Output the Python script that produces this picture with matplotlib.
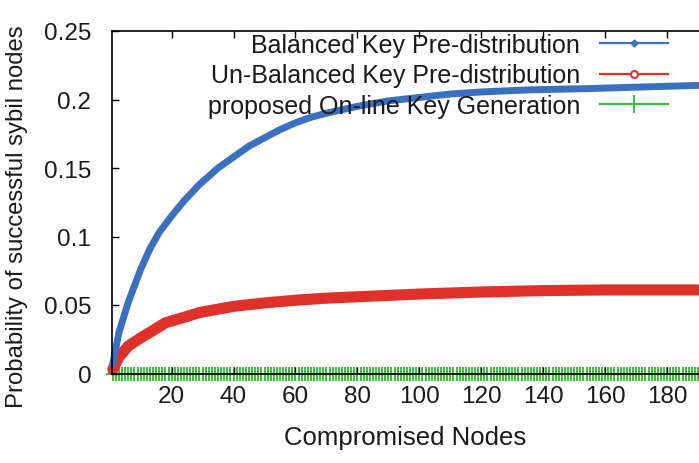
import matplotlib
matplotlib.use("Agg")
import matplotlib.pyplot as plt
from matplotlib.lines import Line2D

plt.rcParams['font.family'] = ['Liberation Sans', 'DejaVu Sans']

# values
blue_x = [1, 3, 6, 10, 13, 16, 20, 24, 29, 35, 40, 45, 50, 55, 60, 65, 70, 80, 90,
          100, 110, 120, 135, 155, 170, 190]
blue_y = [0.007, 0.030, 0.052, 0.076, 0.091, 0.103, 0.115, 0.126, 0.138, 0.150,
          0.158, 0.166, 0.172, 0.178, 0.183, 0.187, 0.190, 0.195, 0.199,
          0.2015, 0.204, 0.2055, 0.207, 0.208, 0.209, 0.2103]

red_x = [1, 3, 6, 10, 13, 18, 24, 29, 40, 50, 60, 70, 80, 100, 120, 140, 160, 190]
red_y = [0.003, 0.012, 0.020, 0.026, 0.030, 0.037, 0.041, 0.0445, 0.049, 0.0515,
         0.0535, 0.055, 0.056, 0.058, 0.0595, 0.0605, 0.061, 0.061]

green_x = list(range(1, 191))
green_y = [0] * len(green_x)

labels = ['Balanced Key Pre-distribution',
          'Un-Balanced Key Pre-distribution',
          'proposed On-line Key Generation']
xticks = [20, 40, 60, 80, 100, 120, 140, 160, 180]
yticks = [0, 0.05, 0.1, 0.15, 0.2, 0.25]
ytick_labels = ['0', '0.05', '0.1', '0.15', '0.2', '0.25']

blue = '#3b6fc0'
red = '#e0302a'
green = '#3cbb3c'
txt = '#1a1a1a'
fs = 17.5

fig = plt.figure(figsize=(6.99, 4.64), dpi=100)
ax = fig.add_axes([112/699, 1-374.5/464, 1-112/699, (374.5-32)/464])

ax.plot(blue_x, blue_y, color=blue, lw=5, solid_capstyle='round', clip_on=False, zorder=3)
ax.plot(red_x, red_y, color=red, lw=8, solid_capstyle='round', clip_on=False, zorder=2)
ax.plot(green_x, green_y, color=green, ls='none', marker='+', ms=9.5, mew=1.4,
        clip_on=False, zorder=1)

ax.set_xlim(0.75, 190.3)
ax.set_ylim(0, 0.25)
ax.set_xticks(xticks)
ax.set_xticklabels([str(t) for t in xticks])
ax.set_yticks(yticks)
ax.set_yticklabels(ytick_labels)
ax.tick_params(direction='in', length=5, width=1, top=True, right=False,
               labelsize=fs, labelcolor=txt, color='black')
ax.tick_params(axis='y', pad=15)
ax.tick_params(axis='x', pad=8)
ax.spines['right'].set_visible(False)
for s in ['left', 'top', 'bottom']:
    ax.spines[s].set_linewidth(1.2)
    ax.spines[s].set_zorder(5)

ax.set_xlabel('Compromised Nodes', fontsize=18.5, color=txt, labelpad=13)
ax.set_ylabel('Probability of successful sybil nodes', fontsize=17.2, color=txt)
ax.yaxis.set_label_coords(-0.143, 0.462)

handles = [
    Line2D([], [], color=blue, lw=1.6, marker='D', ms=3.5),
    Line2D([], [], color=red, lw=1.6, marker='o', ms=5, mfc='white', mew=1.5),
    Line2D([], [], color=green, lw=1.6, marker='+', ms=13, mew=1.4),
]
leg = fig.legend(handles, labels, loc='upper right',
                 bbox_to_anchor=(668/699, 1-34/464), markerfirst=False,
                 frameon=False, fontsize=18, borderpad=0, borderaxespad=0,
                 handlelength=2.72, handletextpad=0.8, labelspacing=0.26)
for t in leg.get_texts():
    t.set_color(txt)

fig.savefig('out.png', dpi=100)
